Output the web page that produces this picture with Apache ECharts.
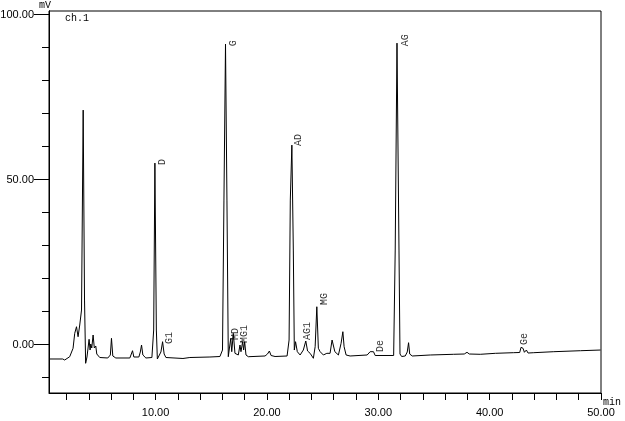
<!DOCTYPE html>
<html><head><meta charset="utf-8">
<script src="https://cdn.jsdelivr.net/npm/echarts@6/dist/echarts.min.js"></script>
<style>html,body{margin:0;padding:0;background:#fff}#c{width:625px;height:421px}</style>
</head><body><div id="c"></div>
<script>
// chromatogram trace: [time (min), signal (mV)]
const traceSamples = [
  [0.43,-4.39],[1.66,-4.39],[1.84,-4.70],[2.29,-3.70],[2.59,-1.15],[2.74,3.39],[2.90,5.39],[3.04,2.36],
  [3.19,5.91],[3.35,10.45],[3.50,71.06],[3.62,13.48],[3.72,-5.70],[3.84,-3.79],[4.03,1.58],[4.12,-1.67],
  [4.18,0.15],[4.27,-1.06],[4.39,2.88],[4.50,-1.06],[4.63,-0.45],[4.72,-2.88],[4.99,-3.94],[5.71,-4.09],
  [5.94,-3.18],[6.04,1.88],[6.16,-3.48],[6.43,-4.09],[7.69,-4.09],[7.93,-1.88],[8.05,-3.79],[8.50,-3.79],
  [8.63,-2.27],[8.74,-0.15],[8.86,-3.18],[9.13,-4.09],[9.67,-3.94],[9.83,4.39],[9.94,55.0],[10.07,4.39],
  [10.16,-4.39],[10.30,-3.79],[10.48,-2.27],[10.63,0.85],[10.77,-2.88],[10.93,-3.94],[12.46,-4.24],[13.08,-3.94],
  [14.88,-3.79],[15.78,-3.64],[16.01,-1.67],[16.14,43.79],[16.28,91.06],[16.41,43.79],[16.53,-3.70],[16.75,1.88],
  [16.84,-2.18],[16.98,3.39],[17.13,-2.67],[17.43,-3.18],[17.58,-0.15],[17.67,-2.18],[17.82,0.85],[17.91,-1.67],
  [18.00,0.85],[18.12,-3.18],[18.33,-3.70],[19.83,-3.48],[20.05,-2.88],[20.22,-1.97],[20.37,-3.33],[20.73,-3.64],
  [21.81,-3.48],[21.99,1.36],[22.10,43.79],[22.24,60.45],[22.37,28.64],[22.46,-1.67],[22.57,0.85],[22.73,-2.18],
  [22.98,-3.18],[23.27,-1.67],[23.36,-2.27],[23.49,1.06],[23.65,-1.97],[23.88,-2.67],[24.03,-2.18],[24.17,-4.18],
  [24.33,-0.67],[24.48,11.45],[24.53,11.67],[24.62,-1.15],[24.78,-2.18],[25.07,-3.18],[25.38,-2.67],[25.67,-2.67],
  [25.85,1.36],[25.97,1.36],[26.10,-2.18],[26.42,-3.18],[26.66,0.36],[26.82,3.88],[26.93,-0.67],[27.11,-3.18],
  [27.47,-3.48],[29.00,-3.18],[29.27,-2.18],[29.57,-2.18],[29.72,-3.33],[31.38,-3.33],[31.52,28.64],[31.68,91.36],
  [31.86,28.64],[31.95,-2.88],[32.10,-3.64],[32.42,-3.48],[32.60,-2.27],[32.72,0.55],[32.82,-2.88],[33.05,-3.48],
  [34.67,-3.18],[36.74,-2.97],[37.72,-2.88],[37.97,-2.36],[38.17,-2.88],[39.16,-2.97],[40.51,-2.67],[42.13,-2.48],
  [42.70,-2.42],[42.82,-0.85],[43.00,-1.15],[43.12,-2.36],[43.30,-1.67],[43.45,-2.58],[43.96,-2.48],[45.76,-2.18],
  [48.16,-1.88],[49.96,-1.67]
];
// peak annotations (name, time, mV at label base)
const peakNames = ['D','G1','G','MD','MG1','AD','AG1','MG','De','AG','Ge'];
const peakLabelTime = [10.57,11.24,16.95,17.13,17.94,22.84,23.61,25.13,30.17,32.46,43.12];
const peakLabelMV = [54.4,0.15,90.45,1.36,0.45,60.15,1.36,11.97,-2.27,90.45,-0.15];
// axis ticks
const xTickValues = [2,4,6,8,10,12,14,16,18,20,22,24,26,28,30,32,34,36,38,40,42,44,46,48,50];
const xLabelValues = [10,20,30,40,50];
const yTickValues = [-10,0,10,20,30,40,50,60,70,80,90,100];
const yLabelValues = [0,50,100];

const tickFont = "'Liberation Sans', Arial, sans-serif";
const monoFont = "'Liberation Mono', 'DejaVu Sans Mono', monospace";
const chart = echarts.init(document.getElementById('c'), null, {renderer:'canvas'});
const yMin = -14.7, yMax = 101.1;
const lineStyle = {color:'#000', width:1};
chart.setOption({
  animation:false,
  backgroundColor:'#fff',
  grid:{left:49, top:11, right:24, bottom:28, show:true, borderColor:'#000', borderWidth:1,
        backgroundColor:'transparent', containLabel:false, outerBoundsMode:'none'},
  xAxis:{
    type:'value', min:0.43, max:50,
    axisLine:{show:true, onZero:false, lineStyle},
    axisTick:{show:true, length:7, customValues:xTickValues, lineStyle},
    axisLabel:{customValues:xLabelValues, formatter:v=>v.toFixed(2), margin:14, color:'#000', fontFamily:tickFont, fontSize:11},
    splitLine:{show:false}
  },
  yAxis:[
    {type:'value', min:yMin, max:yMax, position:'left',
     axisLine:{show:true, onZero:false, lineStyle},
     axisTick:{show:true, length:7, customValues:yTickValues, lineStyle},
     axisLabel:{show:false}, splitLine:{show:false}},
    {type:'value', min:yMin, max:yMax, position:'left', offset:0,
     axisLine:{show:true, onZero:false, lineStyle},
     axisTick:{show:true, length:15, customValues:yLabelValues, lineStyle},
     axisLabel:{customValues:yLabelValues, formatter:v=>v.toFixed(2), margin:15, color:'#000', fontFamily:tickFont, fontSize:11},
     splitLine:{show:false}}
  ],
  series:[
    {type:'line', data:traceSamples, yAxisIndex:0, showSymbol:false, symbol:'none', lineStyle, silent:true},
    {type:'scatter', yAxisIndex:0, symbolSize:1, itemStyle:{color:'rgba(0,0,0,0)'},
     data:peakNames.map((n,i)=>({name:n, value:[peakLabelTime[i], peakLabelMV[i]]})),
     label:{show:true, formatter:'{b}', position:'inside', rotate:90, align:'left', verticalAlign:'middle',
            color:'#000', fontFamily:monoFont, fontSize:10}}
  ],
  graphic:[
    {type:'text', left:39, top:0, style:{text:'mV', fill:'#000', font:'10px '+monoFont}},
    {type:'text', left:65, top:13, style:{text:'ch.1', fill:'#000', font:'10px '+monoFont}},
    {type:'text', left:603, top:397, style:{text:'min', fill:'#000', font:'10px '+monoFont}}
  ]
});
</script></body></html>
